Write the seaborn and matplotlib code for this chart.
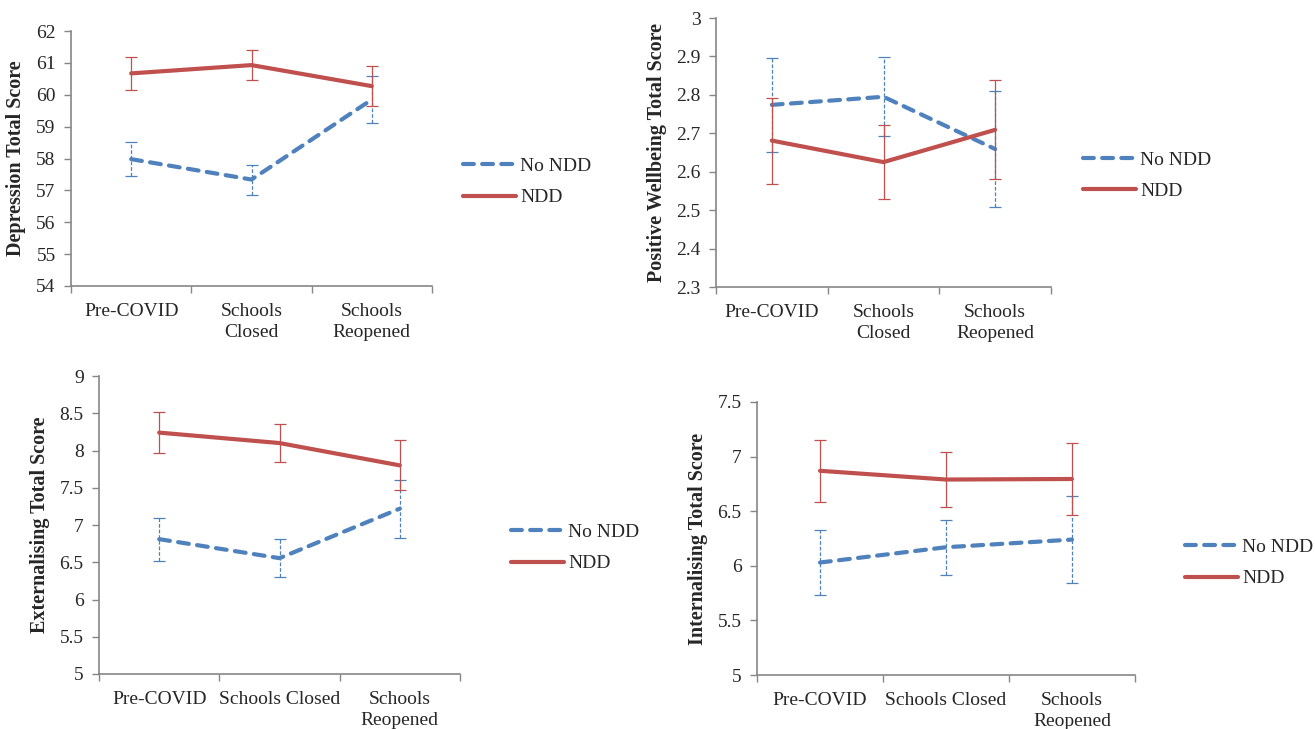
import numpy as np
import pandas as pd
import seaborn as sns
import matplotlib.pyplot as plt

# Data
groups = ['No NDD', 'NDD']
periods_top = ['Pre-COVID', 'Schools\nClosed', 'Schools\nReopened']
periods_bottom = ['Pre-COVID', 'Schools Closed', 'Schools\nReopened']

dep_no = [57.98, 57.34, 59.85]
dep_no_err = [0.54, 0.47, 0.74]
dep_ndd = [60.67, 60.93, 60.27]
dep_ndd_err = [0.53, 0.47, 0.63]

wb_no = [2.774, 2.795, 2.659]
wb_no_err = [0.122, 0.103, 0.152]
wb_ndd = [2.681, 2.625, 2.709]
wb_ndd_err = [0.112, 0.097, 0.129]

ext_no = [6.81, 6.555, 7.22]
ext_no_err = [0.29, 0.255, 0.39]
ext_ndd = [8.24, 8.10, 7.80]
ext_ndd_err = [0.28, 0.26, 0.335]

int_no = [6.03, 6.17, 6.24]
int_no_err = [0.30, 0.25, 0.40]
int_ndd = [6.87, 6.79, 6.795]
int_ndd_err = [0.285, 0.25, 0.33]

sns.set_style('white')
plt.rcParams['font.family'] = ['Liberation Serif', 'DejaVu Serif']

BLUE = '#4F81BD'
RED = '#C0504D'
GRAY = '#868686'
palette = {'No NDD': BLUE, 'NDD': RED}

fig = plt.figure(figsize=(13.15, 7.29), dpi=100)


def draw_panel(rect, labels, no, no_err, ndd, ndd_err, yticks, ylabel, leg_xy):
    ax = fig.add_axes(rect)
    df = pd.DataFrame({
        'pos': list(range(3)) * 2,
        'score': no + ndd,
        'group': ['No NDD'] * 3 + ['NDD'] * 3,
    })
    sns.lineplot(data=df, x='pos', y='score', hue='group', style='group',
                 hue_order=groups, style_order=groups, palette=palette,
                 dashes={'No NDD': (2.6, 2.0), 'NDD': ''}, linewidth=3,
                 dash_capstyle='round', legend=False, ax=ax)
    lines = ax.get_lines()[:2]

    # error bars
    for vals, errs, col, dashed in [(no, no_err, BLUE, True), (ndd, ndd_err, RED, False)]:
        eb = ax.errorbar(range(3), vals, yerr=errs, fmt='none', ecolor=col,
                         elinewidth=0.9, capsize=4, capthick=0.9, zorder=3)
        if dashed:
            eb.lines[2][0].set_linestyle((0, (3, 1.5)))

    ax.set_xlim(-0.5, 2.5)
    ax.set_ylim(yticks[0], yticks[-1])
    ax.set_yticks(yticks)
    ax.set_yticklabels(['{:g}'.format(t) for t in yticks])
    ax.set_xticks([0, 1, 2])
    ax.set_xticklabels(labels, linespacing=1.3)
    ax.set_xticks([-0.5, 0.5, 1.5, 2.5], minor=True)
    ax.tick_params(axis='x', which='major', length=0, pad=12, labelsize=14)
    ax.tick_params(axis='x', which='minor', length=5, width=1, color=GRAY,
                   direction='out', bottom=True)
    ax.tick_params(axis='y', length=5, width=1, color=GRAY, direction='out',
                   left=True, pad=6, labelsize=14)
    ax.set_xlabel('')
    ax.set_ylabel(ylabel, fontsize=14.5, fontweight='bold', labelpad=7)
    for s in ['top', 'right']:
        ax.spines[s].set_visible(False)
    for s in ['left', 'bottom']:
        ax.spines[s].set_color(GRAY)
        ax.spines[s].set_linewidth(1.2)

    ax.legend(lines, groups, loc='center left', bbox_to_anchor=leg_xy,
              bbox_transform=fig.transFigure, frameon=False, fontsize=14,
              handlelength=2.7, handletextpad=0.25, labelspacing=0.7,
              borderpad=0, borderaxespad=0)
    return ax


W, H = 1315, 729


def rect(l, t, r, b):
    return [l / W, 1 - b / H, (r - l) / W, (b - t) / H]


draw_panel(rect(71, 31, 432, 286), periods_top, dep_no, dep_no_err, dep_ndd, dep_ndd_err,
           list(range(54, 63)), 'Depression Total Score', (463 / W, 1 - 182 / H))

draw_panel(rect(716, 18, 1051, 287), periods_top, wb_no, wb_no_err, wb_ndd, wb_ndd_err,
           list(np.round(np.arange(2.3, 3.01, 0.1), 1)), 'Positive Wellbeing Total Score',
           (1083 / W, 1 - 175.5 / H))

draw_panel(rect(99, 376, 460, 674), periods_bottom, ext_no, ext_no_err, ext_ndd, ext_ndd_err,
           list(np.arange(5, 9.01, 0.5)), 'Externalising Total Score',
           (511 / W, 1 - 548 / H))

draw_panel(rect(757, 402, 1135, 675), periods_bottom, int_no, int_no_err, int_ndd, int_ndd_err,
           list(np.arange(5, 7.51, 0.5)), 'Internalising Total Score',
           (1185 / W, 1 - 563 / H))

fig.savefig('out.png', dpi=100)
